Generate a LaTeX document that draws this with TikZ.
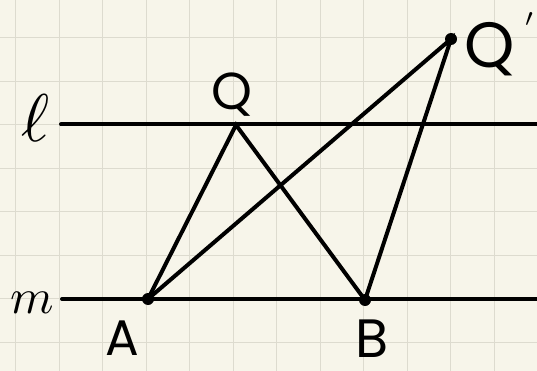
\documentclass[tikz,border=0pt]{standalone}
\usepackage{fontspec}
\newfontfamily\handfont{Poppins}
\definecolor{paper}{HTML}{F7F5EA}
\definecolor{gridc}{HTML}{DDDBCF}
\begin{document}
\begin{tikzpicture}[x=1pt,y=-1pt,
  lineseg/.style={line width=4pt,line cap=round,black},
  dotpt/.style={circle,fill=black,inner sep=0pt,minimum size=12pt},
  lbl/.style={font=\handfont\fontsize{50}{50}\selectfont,inner sep=0pt},
  baselbl/.style={lbl,anchor=base,text depth=0pt},
  mlbl/.style={inner sep=0pt,scale=4.5}]
\fill[paper] (0,0) rectangle (537,371);
\useasboundingbox (0,0) rectangle (537,371);
\foreach \i in {0,...,12} \draw[gridc,line width=1.2pt] (15.7+43.5*\i,0) -- (15.7+43.5*\i,371);
\foreach \i in {0,...,7} \draw[gridc,line width=1.2pt] (0,37.7+43.5*\i) -- (537,37.7+43.5*\i);
\coordinate (l1) at (61,124.5);
\coordinate (l2) at (537,124.5);
\coordinate (m1) at (62,299);
\coordinate (m2) at (537,299);
\coordinate (A) at (148,299);
\coordinate (B) at (365,300);
\coordinate (Q) at (236,125);
\coordinate (Qp) at (451,39);
\draw[lineseg] (l1) -- (l2);
\draw[lineseg] (m1) -- (m2);
\draw[lineseg] (A) -- (Q) -- (B);
\draw[lineseg] (A) -- (Qp) -- (B);
\node[dotpt] (dA) at (A) {};
\node[dotpt] (dB) at (B) {};
\node[dotpt] (dQp) at (Qp) {};
\node[mlbl,scale=1.5] (ll) at (36,118) {$\ell$};
\node[mlbl,scale=1.1] (lm) at (32,303) {$m$};
\node[baselbl] (tA) at (122,355) {A};
\node[baselbl,font=\handfont\fontsize{54}{54}\selectfont] (tB) at (372,357) {B};
\node[lbl,font=\handfont\fontsize{52}{52}\selectfont] (tQ) at (232,95) {Q};
\node[lbl,font=\handfont\fontsize{64}{64}\selectfont] (tQp) at (490,49) {Q};
\node[mlbl,scale=0.8] (tpr) at (530,26) {$'$};
\end{tikzpicture}
\end{document}
